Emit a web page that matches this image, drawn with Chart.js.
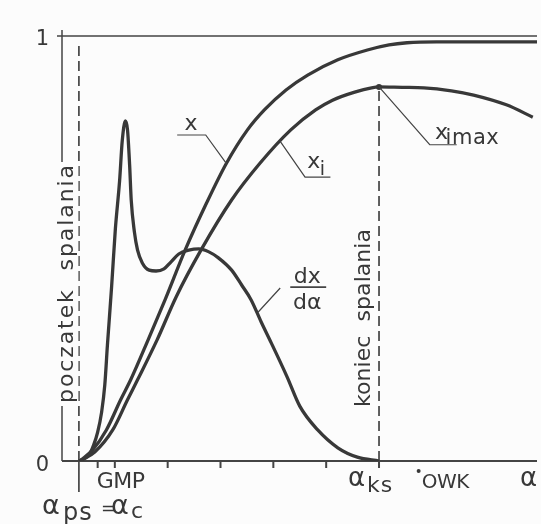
<!DOCTYPE html>
<html>
<head>
<meta charset="utf-8">
<script src="https://cdn.jsdelivr.net/npm/chart.js@4.4.1/dist/chart.umd.min.js"></script>
<style>
    html, body { margin: 0; padding: 0; background: #fcfcfc; }
</style>
</head>
<body>
<canvas id="mycanvas" width="541" height="524"></canvas>
<script>
// crank angle in scale units (10 per tick mark) and curve values
var alphaDx = [3.2, 4.1, 5.1, 6.0, 6.75, 7.5, 8.1, 8.6, 9.4, 10.1, 10.9, 11.4, 12.0, 12.4, 12.8,
               13.1, 13.7, 14.3, 15.2, 16.5, 17.8, 19.3, 20.6, 22.1, 24.0, 25.9, 27.8, 29.6, 32.1,
               34.0, 35.8, 37.7, 39.6, 42.6, 45.0, 48.4, 52.2, 55.9, 60.0];
var dxdAlpha = [0, 0.005, 0.014, 0.038, 0.068, 0.115, 0.179, 0.273, 0.412, 0.546, 0.659, 0.753, 0.80, 0.779, 0.696,
                0.614, 0.539, 0.496, 0.466, 0.449, 0.447, 0.452, 0.468, 0.487, 0.496, 0.499, 0.492, 0.478, 0.449,
                0.414, 0.379, 0.327, 0.278, 0.198, 0.129, 0.073, 0.031, 0.009, 0];

var alphaX = [3.4, 5.8, 8.4, 11.1, 13.0, 16.3, 19.5, 23.3, 27.4, 31.1, 35.1, 38.3, 42.4, 46.5, 52.2,
              57.8, 61.9, 65.3, 70.9, 89.9];
var xBurnt = [0, 0.026, 0.073, 0.144, 0.191, 0.285, 0.379, 0.496, 0.608, 0.700, 0.779, 0.826, 0.873, 0.908, 0.944,
              0.967, 0.979, 0.984, 0.986, 0.986];

var alphaXi = [3.4, 6.2, 9.6, 12.4, 14.3, 18.0, 21.6, 26.3, 32.1, 37.5, 43.3, 48.0, 51.2, 55.4, 58.6,
               60.0, 64.4, 68.5, 73.7, 77.9, 84.1, 89.1];
var xIndicated = [0, 0.021, 0.073, 0.144, 0.191, 0.285, 0.386, 0.496, 0.614, 0.701, 0.779, 0.826, 0.849, 0.868, 0.878,
                  0.880, 0.879, 0.878, 0.871, 0.861, 0.838, 0.809];

var alphaXiMax = [60.0];
var xiMax = [0.880];

var xTicks = [6.75, 10, 20, 30, 40, 50, 60];
var alphaPs = 3.2;   // początek spalania
var alphaKs = 60;    // koniec spalania
var alphaGmp = 6.75;
var alphaOwk = 67.5;

function pts(xs, ys) {
    return xs.map(function (v, i) { return { x: v, y: ys[i] }; });
}

var ink = "#383838";
var font = "'DejaVu Sans', sans-serif";

function txt(ctx, s, x, y, size, align, spacing) {
    ctx.save();
    ctx.font = size + "px " + font;
    ctx.textAlign = align || "left";
    ctx.letterSpacing = (spacing || 0) + "px";
    ctx.fillText(s, x, y);
    ctx.restore();
}

// rotated (bottom-to-top) label with a cleared background, stretched to a given length
function vText(ctx, s, bx, cy, size, len) {
    ctx.save();
    ctx.translate(bx, cy);
    ctx.rotate(-Math.PI / 2);
    ctx.font = size + "px " + font;
    var w = ctx.measureText(s).width;
    var sp = Math.max(0, (len - w) / (s.length - 1));
    ctx.fillStyle = "#fcfcfc";
    ctx.fillRect(-len / 2 - 3, -size * 0.8, len + 6, size * 1.05);
    ctx.fillStyle = ink;
    ctx.letterSpacing = sp + "px";
    ctx.textAlign = "left";
    ctx.textBaseline = "alphabetic";
    ctx.fillText(s, -len / 2, 0);
    ctx.restore();
}

var sketch = {
    id: "sketch",
    beforeDraw: function (chart) {
        var c = chart.ctx;
        c.save();
        c.fillStyle = "#fcfcfc";
        c.fillRect(0, 0, chart.width, chart.height);
        c.restore();
    },
    beforeDatasetsDraw: function (chart) {
        var c = chart.ctx, xs = chart.scales.x, ys = chart.scales.y, a = chart.chartArea;
        var X = function (v) { return xs.getPixelForValue(v); };
        var Y = function (v) { return ys.getPixelForValue(v); };
        c.save();
        c.strokeStyle = "#444";
        c.lineCap = "butt";

        // axes
        c.lineWidth = 1.5;
        c.beginPath();
        c.moveTo(X(0), a.top);
        c.lineTo(X(0), Y(0));
        c.moveTo(X(0) - 5, Y(1));
        c.lineTo(a.right, Y(1));
        c.stroke();
        c.lineWidth = 2;
        c.beginPath();
        c.moveTo(X(0), Y(0));
        c.lineTo(a.right, Y(0));
        xTicks.forEach(function (t) {
            c.moveTo(X(t), Y(0));
            c.lineTo(X(t), Y(0) + 7);
        });
        c.stroke();

        // start of combustion
        c.lineWidth = 1.7;
        c.beginPath();
        c.moveTo(X(alphaPs), Y(0));
        c.lineTo(X(alphaPs), Y(0) + 31);
        c.stroke();
        c.setLineDash([10, 5]);
        c.beginPath();
        c.moveTo(X(alphaPs), Y(0));
        c.lineTo(X(alphaPs), Y(0.985));
        // end of combustion
        c.moveTo(X(alphaKs), Y(0));
        c.lineTo(X(alphaKs), Y(xiMax[0]));
        c.stroke();
        c.restore();
    },
    afterDatasetsDraw: function (chart) {
        var c = chart.ctx, xs = chart.scales.x, ys = chart.scales.y;
        var X = function (v) { return xs.getPixelForValue(v); };
        var Y = function (v) { return ys.getPixelForValue(v); };
        c.save();
        c.fillStyle = ink;
        c.strokeStyle = "#444";
        c.lineWidth = 1.2;

        // leader lines
        c.beginPath();
        // x
        c.moveTo(X(21.8), Y(0.767));
        c.lineTo(X(27.2), Y(0.767));
        c.lineTo(X(31.1), Y(0.700));
        // x_i
        c.moveTo(X(41.3), Y(0.752));
        c.lineTo(X(46.0), Y(0.668));
        c.lineTo(X(50.8), Y(0.668));
        // x_imax
        c.moveTo(X(alphaXiMax[0]), Y(xiMax[0]));
        c.lineTo(X(69.6), Y(0.744));
        c.lineTo(X(74.7), Y(0.744));
        // dx/dα
        c.moveTo(X(37.1), Y(0.350));
        c.lineTo(X(41.3), Y(0.407));
        c.stroke();

        // curve labels
        txt(c, "x", X(24.4), Y(0.779), 22, "center");
        txt(c, "x", X(46.4), Y(0.689), 22);
        txt(c, "i", X(48.8), Y(0.672), 19);
        txt(c, "x", X(70.6), Y(0.757), 22);
        txt(c, "imax", X(72.6), Y(0.745), 21, "left", 0.5);
        txt(c, "dx", X(46.4), Y(0.419), 22, "center");
        txt(c, "dα", X(46.4), Y(0.357), 22, "center");
        c.lineWidth = 1.8;
        c.beginPath();
        c.moveTo(X(43.2), Y(0.409));
        c.lineTo(X(50.0), Y(0.409));
        c.stroke();

        // axis labels
        txt(c, "1", 49, 45, 21, "right");
        txt(c, "0", 49, 471, 21, "right");
        txt(c, "GMP", X(alphaGmp) - 1, 488, 22, "left", -0.5);
        txt(c, "α", 42, 514, 27);
        txt(c, "ps", 63, 520, 24, "left", 1);
        txt(c, "=", 101, 514, 18);
        txt(c, "α", 111, 514, 27);
        txt(c, "c", 131, 518, 22);
        txt(c, "α", X(alphaKs) - 31, 486, 26);
        txt(c, "ks", X(alphaKs) - 12, 492, 22, "left", 1);
        c.beginPath();
        c.arc(X(alphaOwk), 471, 2, 0, Math.PI * 2);
        c.fill();
        txt(c, "OWK", X(alphaOwk) + 3, 488, 20, "left", -0.5);
        txt(c, "α", 520, 486, 26);

        // rotated labels on the dashed lines
        vText(c, "poczatek  spalania", X(alphaPs) - 6, 284, 22, 238);
        vText(c, "koniec  spalania", X(alphaKs) - 9, 318, 22, 178);
        c.restore();
    }
};

var ctx = document.getElementById("mycanvas");

function curve(label, points) {
    return {
        label: label,
        data: points,
        borderColor: ink,
        borderWidth: 3.3,
        pointRadius: 0,
        fill: false,
        cubicInterpolationMode: "monotone"
    };
}

var data = {
    datasets: [
        curve("dx/dα", pts(alphaDx, dxdAlpha)),
        curve("x", pts(alphaX, xBurnt)),
        curve("xi", pts(alphaXi, xIndicated)),
        {
            label: "ximax",
            data: pts(alphaXiMax, xiMax),
            showLine: false,
            pointRadius: 3,
            pointBackgroundColor: ink,
            pointBorderWidth: 0
        }
    ]
};

var options = {
    responsive: false,
    animation: false,
    events: [],
    layout: { padding: { left: 62, top: 30, right: 0, bottom: 63 } },
    plugins: {
        legend: { display: false },
        tooltip: { enabled: false }
    },
    scales: {
        x: { type: "linear", display: false, min: 0, max: 89.9 },
        y: { type: "linear", display: false, min: 0, max: 1.014 }
    }
};

var chart = new Chart(ctx, {
    type: "line",
    data: data,
    options: options,
    plugins: [sketch]
});
</script>
</body>
</html>
